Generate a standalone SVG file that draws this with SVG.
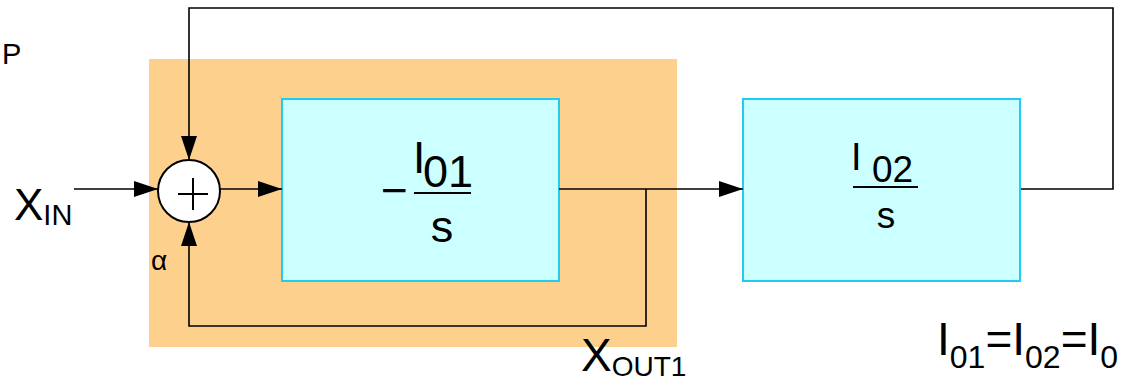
<svg xmlns="http://www.w3.org/2000/svg" width="1131" height="380" viewBox="0 0 1131 380">
<style>
.t{font-family:"Liberation Sans",Arial,sans-serif;fill:#000}
.blk{fill:#CCFFFF;stroke:#22CCEE;stroke-width:2}
.c{fill:none;stroke:#000;stroke-width:1.6}
.fl{stroke:#000;stroke-width:1.8}
</style>
<defs>
<marker id="ah" markerUnits="userSpaceOnUse" markerWidth="25" markerHeight="16" refX="24" refY="8" orient="auto">
<path d="M0,0 L24,8 L0,16 Z" fill="#000"/>
</marker>
</defs>
<rect id="region" x="149" y="59" width="528" height="288" fill="#FDD08E"/>
<text class="t" x="2" y="64" font-size="29">P</text>
<g id="xin"><text class="t" x="14" y="220" font-size="44">X<tspan font-size="29" dy="5">IN</tspan></text></g>
<g id="sum">
<circle cx="189" cy="191" r="31" fill="#fff" stroke="#000" stroke-width="2"/>
<line x1="178" y1="194" x2="208" y2="194" stroke="#000" stroke-width="2"/>
<line x1="193" y1="178" x2="193" y2="210" stroke="#000" stroke-width="2"/>
</g>
<text class="t" x="151" y="270" font-size="28">α</text>
<g id="block1">
<rect class="blk" x="282" y="99" width="277" height="182"/>
<text class="t" x="381" y="206" font-size="46">−</text>
<text class="t" x="413" y="173" font-size="44">I</text>
<text class="t" x="423" y="187" font-size="45">01</text>
<line class="fl" x1="414" y1="193" x2="471" y2="193"/>
<text class="t" x="442" y="242" font-size="45" text-anchor="middle">s</text>
</g>
<g id="block2">
<rect class="blk" x="743" y="99" width="277" height="182"/>
<text class="t" x="851" y="170" font-size="38">I</text>
<text class="t" x="872" y="182" font-size="37">02</text>
<line class="fl" x1="853" y1="187" x2="918" y2="187"/>
<text class="t" x="886" y="228" font-size="37" text-anchor="middle">s</text>
</g>
<g id="connectors">
<path class="c" d="M74 189 H158" marker-end="url(#ah)"/>
<path class="c" d="M220 189 H282" marker-end="url(#ah)"/>
<path class="c" d="M559 189 H743" marker-end="url(#ah)"/>
<path class="c" d="M1021 189 H1113 V8 H189 V160" marker-end="url(#ah)"/>
<path class="c" d="M646 189 V326 H189 V222" marker-end="url(#ah)"/>
</g>
<g id="xout"><text class="t" x="581" y="371" font-size="46">X<tspan font-size="28" dy="5">OUT1</tspan></text></g>
<g id="eq"><text class="t" x="937" y="355" font-size="46">I<tspan font-size="32" dy="13">01</tspan><tspan dy="-13">=I</tspan><tspan font-size="32" dy="13">02</tspan><tspan dy="-13">=I</tspan><tspan font-size="32" dy="13">0</tspan></text></g>
</svg>
